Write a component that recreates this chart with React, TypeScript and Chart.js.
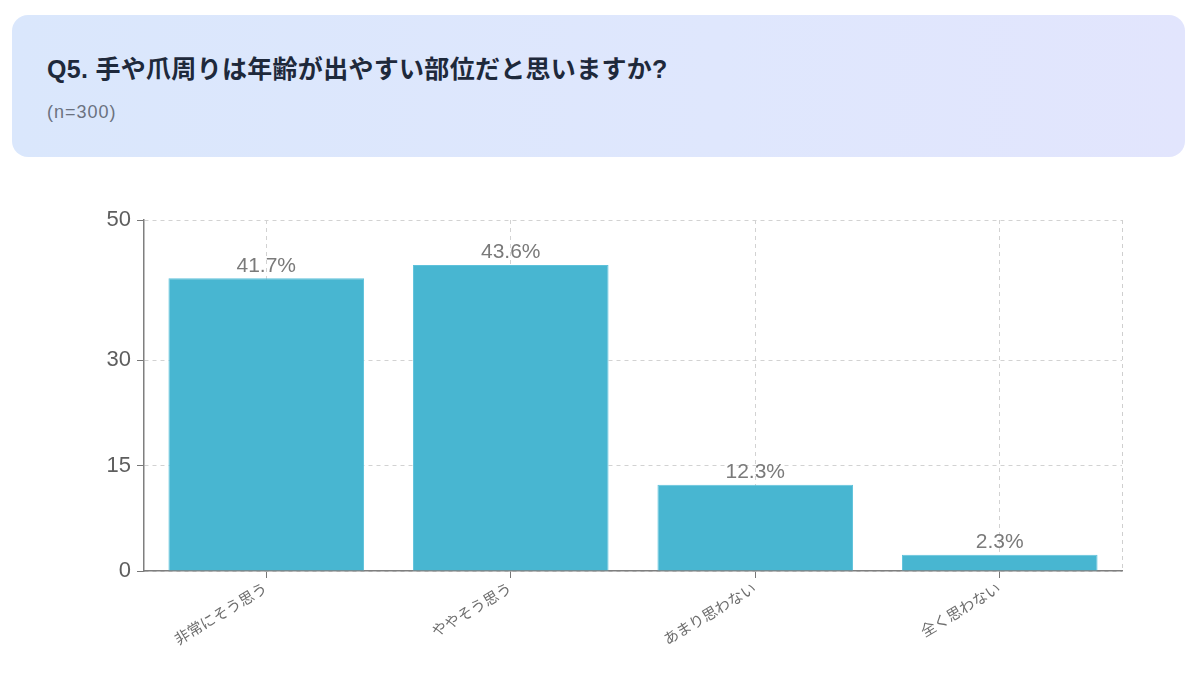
import React, { useEffect, useRef } from "react";
import { Chart, registerables } from "chart.js";

Chart.register(...registerables);

const title = "Q5. 手や爪周りは年齢が出やすい部位だと思いますか?";
const subtitle = "(n=300)";
const categories = ["非常にそう思う", "ややそう思う", "あまり思わない", "全く思わない"];
const values = [41.7, 43.6, 12.3, 2.3];
const yTicks = [0, 15, 30, 50];
const yMax = 50;

const LATIN_CJK = '"Liberation Sans", "Noto Sans CJK JP", sans-serif';

const valueLabels = {
  id: "valueLabels",
  afterDatasetsDraw(chart: any) {
    const { ctx } = chart;
    const meta = chart.getDatasetMeta(0);
    ctx.save();
    ctx.font = `21px ${LATIN_CJK}`;
    ctx.fillStyle = "#7a7a7a";
    ctx.textAlign = "center";
    ctx.textBaseline = "bottom";
    meta.data.forEach((bar: any, i: number) => {
      ctx.fillText(`${values[i]}%`, bar.x, bar.y - 2);
    });
    ctx.restore();
  },
};

const rightEdge = {
  id: "rightEdge",
  beforeDatasetsDraw(chart: any) {
    const { ctx, chartArea } = chart;
    ctx.save();
    ctx.strokeStyle = "#cfcfcf";
    ctx.lineWidth = 1;
    ctx.setLineDash([4, 4]);
    ctx.beginPath();
    ctx.moveTo(chartArea.right + 0.5, chartArea.top);
    ctx.lineTo(chartArea.right + 0.5, chartArea.bottom);
    ctx.stroke();
    ctx.restore();
  },
};

export default function App() {
  const canvasRef = useRef<HTMLCanvasElement | null>(null);

  useEffect(() => {
    if (!canvasRef.current) return;
    const chart = new Chart(canvasRef.current, {
      type: "bar",
      data: {
        labels: categories,
        datasets: [
          {
            data: values,
            backgroundColor: "#48b6d1",
            borderColor: "#5ec2db",
            borderWidth: 1,
            categoryPercentage: 1,
            barPercentage: 0.8,
          },
        ],
      },
      options: {
        animation: false,
        responsive: true,
        maintainAspectRatio: false,
        layout: { padding: { top: 20, right: 10, left: 0, bottom: 0 } },
        plugins: {
          legend: { display: false },
          tooltip: { enabled: false },
          title: { display: false },
        },
        scales: {
          x: {
            grid: {
              offset: false,
              color: "#d2d2d2",
              tickColor: "#777777",
              tickLength: 7,
              tickBorderDash: [],
            },
            border: { color: "#7f7f7f", width: 1.5, dash: [4, 4] },
            ticks: {
              color: "#6e6e6e",
              font: { size: 15, family: LATIN_CJK },
              minRotation: 31,
              maxRotation: 31,
              padding: 2,
            },
            afterFit(scale: any) {
              scale.height = 100;
            },
          },
          y: {
            min: 0,
            max: yMax,
            afterBuildTicks(scale: any) {
              scale.ticks = yTicks.map((v) => ({ value: v }));
            },
            grid: {
              color: "#d2d2d2",
              tickColor: "#777777",
              tickLength: 7,
              tickBorderDash: [],
            },
            border: { color: "#7f7f7f", width: 1.5, dash: [4, 4] },
            ticks: {
              color: "#5e5e5e",
              font: { size: 22, family: LATIN_CJK },
              padding: 6,
            },
            afterFit(scale: any) {
              scale.width = 64;
            },
          },
        },
      },
      plugins: [rightEdge, valueLabels],
    });
    return () => chart.destroy();
  }, []);

  return (
    <div>
      <div
        style={{
          position: "absolute",
          left: 12,
          top: 15,
          width: 1173,
          height: 142,
          borderRadius: 16,
          background: "linear-gradient(90deg, #dae7fc 0%, #dfe7fd 60%, #e2e5fd 100%)",
        }}
      >
        <div
          style={{
            position: "absolute",
            left: 35,
            top: 34,
            fontFamily: LATIN_CJK,
            fontWeight: 700,
            fontSize: 25,
            letterSpacing: 0.3,
            color: "#1e293b",
            whiteSpace: "nowrap",
          }}
        >
          {title}
        </div>
        <div
          style={{
            position: "absolute",
            left: 35,
            top: 87,
            fontFamily: LATIN_CJK,
            fontSize: 18,
            letterSpacing: 1,
            color: "#6b7280",
            whiteSpace: "nowrap",
          }}
        >
          {subtitle}
        </div>
      </div>
      <div
        style={{
          position: "absolute",
          left: 80,
          top: 200,
          width: 1052,
          height: 471,
        }}
      >
        <canvas ref={canvasRef} />
      </div>
    </div>
  );
}
